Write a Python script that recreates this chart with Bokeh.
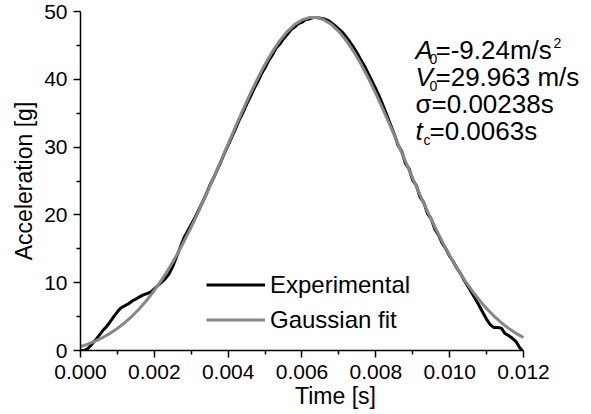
from bokeh.plotting import figure
from bokeh.models import (Range1d, FixedTicker, PrintfTickFormatter, Legend,
                          LegendItem, Label)
from bokeh.embed import file_html
from bokeh.resources import INLINE

# ---------------- data ----------------
time_exp = [
    0.0000, 0.0001, 0.0002, 0.0003, 0.0004, 0.0005, 0.0006, 0.0007, 0.0008, 0.0009,
    0.0010, 0.0011, 0.0012, 0.0013, 0.0014, 0.0015, 0.0016, 0.0017, 0.0018, 0.0019,
    0.0020, 0.0021, 0.0022, 0.0023, 0.0024, 0.0025, 0.0026, 0.0027, 0.0028, 0.0029,
    0.0030, 0.0031, 0.0032, 0.0033, 0.0034, 0.0035, 0.0036, 0.0037, 0.0038, 0.0039,
    0.0040, 0.0041, 0.0042, 0.0043, 0.0044, 0.0045, 0.0046, 0.0047, 0.0048, 0.0049,
    0.0050, 0.0051, 0.0052, 0.0053, 0.0054, 0.0055, 0.0056, 0.0057, 0.0058, 0.0059,
    0.0060, 0.0061, 0.0062, 0.0063, 0.0064, 0.0065, 0.0066, 0.0067, 0.0068, 0.0069,
    0.0070, 0.0071, 0.0072, 0.0073, 0.0074, 0.0075, 0.0076, 0.0077, 0.0078, 0.0079,
    0.0080, 0.0081, 0.0082, 0.0083, 0.0084, 0.0085, 0.0086, 0.0087, 0.0088, 0.0089,
    0.0090, 0.0091, 0.0092, 0.0093, 0.0094, 0.0095, 0.0096, 0.0097, 0.0098, 0.0099,
    0.0100, 0.0101, 0.0102, 0.0103, 0.0104, 0.0105, 0.0106, 0.0107, 0.0108, 0.0109,
    0.0110, 0.0111, 0.0112, 0.0113, 0.0114, 0.0115, 0.0116, 0.0117, 0.0118, 0.0119,
    0.01197,
]
acc_exp = [
    0.0, 0.0, 0.3, 0.9, 1.5, 2.2, 2.9, 3.5, 4.2, 5.0,
    5.7, 6.3, 6.6, 6.9, 7.3, 7.6, 7.9, 8.2, 8.4, 8.6,
    9.1, 9.6, 10.1, 10.6, 11.3, 12.4, 13.8, 15.2, 16.6, 17.6,
    18.6, 19.6, 20.7, 21.8, 23.0, 24.3, 25.4, 26.6, 27.8, 29.1,
    30.3, 31.5, 32.7, 34.0, 35.1, 36.3, 37.4, 38.6, 39.6, 40.8,
    41.7, 42.8, 43.6, 44.6, 45.2, 46.0, 46.6, 47.3, 47.7, 48.2,
    48.4, 48.8, 48.9, 49.1, 49.1, 49.0, 48.9, 48.7, 48.3, 47.9,
    47.4, 46.9, 46.2, 45.5, 44.7, 43.8, 42.8, 41.9, 40.8, 39.7,
    38.6, 37.4, 36.1, 34.7, 33.3, 31.9, 30.3, 29.4, 27.6, 26.8,
    25.1, 24.3, 22.6, 21.8, 20.2, 19.4, 17.9, 17.0, 15.8, 15.0,
    13.9, 13.1, 12.1, 11.3, 10.3, 9.4, 8.5, 7.6, 6.6, 5.6,
    4.6, 3.8, 3.4, 3.4, 3.3, 2.5, 2.2, 1.8, 1.3, 0.4,
    0.0,
]

time_fit = [
    0.0000, 0.0002, 0.0004, 0.0006, 0.0008, 0.0010, 0.0012, 0.0014, 0.0016, 0.0018,
    0.0020, 0.0022, 0.0024, 0.0026, 0.0028, 0.0030, 0.0032, 0.0034, 0.0036, 0.0038,
    0.0040, 0.0042, 0.0044, 0.0046, 0.0048, 0.0050, 0.0052, 0.0054, 0.0056, 0.0058,
    0.0060, 0.0062, 0.0064, 0.0066, 0.0068, 0.0070, 0.0072, 0.0074, 0.0076, 0.0078,
    0.0080, 0.0082, 0.0084, 0.0086, 0.0088, 0.0090, 0.0092, 0.0094, 0.0096, 0.0098,
    0.0100, 0.0102, 0.0104, 0.0106, 0.0108, 0.0110, 0.0112, 0.0114, 0.0116, 0.0118,
    0.0120,
]
acc_fit = [
    0.57, 0.94, 1.38, 1.91, 2.53, 3.26, 4.10, 5.08, 6.19, 7.45,
    8.86, 10.42, 12.14, 14.02, 16.05, 18.22, 20.51, 22.91, 25.39, 27.92,
    30.47, 33.01, 35.49, 37.88, 40.14, 42.22, 44.09, 45.70, 47.04, 48.07,
    48.76, 49.12, 49.12, 48.76, 48.07, 47.04, 45.70, 44.09, 42.22, 40.14,
    37.88, 35.49, 33.01, 30.47, 27.92, 25.39, 22.91, 20.51, 18.22, 16.05,
    14.02, 12.14, 10.42, 8.86, 7.45, 6.19, 5.08, 4.10, 3.26, 2.53,
    1.91,
]

x_major = [0.000, 0.002, 0.004, 0.006, 0.008, 0.010, 0.012]
x_minor = [0.001, 0.003, 0.005, 0.007, 0.009, 0.011]
y_major = [0, 10, 20, 30, 40, 50]
y_minor = [5, 15, 25, 35, 45]

series_names = ["Experimental", "Gaussian fit"]
x_title = "Time [s]"
y_title = "Acceleration [g]"

FONT = "Liberation Sans"

# The frame is widened to the right so the parameter text is not clipped;
# the axis itself is bounded to 0 .. 0.012 like the reference.
p = figure(width=591, height=414, output_backend="svg", toolbar_location=None,
           x_range=Range1d(0, 0.013815), y_range=Range1d(0, 50),
           min_border_left=80, min_border_right=1,
           min_border_top=11, min_border_bottom=64)
p.xgrid.visible = False
p.ygrid.visible = False
p.outline_line_color = None
p.background_fill_color = "white"
p.border_fill_color = "white"

for ax in (p.xaxis[0], p.yaxis[0]):
    ax.axis_line_color = "black"
    ax.axis_line_width = 1.5
    ax.major_tick_line_color = "black"
    ax.major_tick_line_width = 1.5
    ax.minor_tick_line_color = "black"
    ax.minor_tick_line_width = 1.5
    ax.major_tick_in = 0
    ax.major_tick_out = 7
    ax.minor_tick_in = 0
    ax.minor_tick_out = 4
    ax.major_label_text_font = FONT
    ax.major_label_text_font_size = "21px"
    ax.major_label_text_color = "black"
    ax.axis_label_text_font = FONT
    ax.axis_label_text_font_size = "23px"
    ax.axis_label_text_font_style = "normal"
    ax.axis_label_text_color = "black"

p.xaxis[0].bounds = (0, 0.012)
p.xaxis[0].ticker = FixedTicker(ticks=x_major, minor_ticks=x_minor)
p.yaxis[0].ticker = FixedTicker(ticks=y_major, minor_ticks=y_minor)
p.xaxis[0].formatter = PrintfTickFormatter(format="%.3f")
p.xaxis[0].major_label_standoff = 7
p.yaxis[0].major_label_standoff = 6
p.xaxis[0].axis_label = x_title
p.yaxis[0].axis_label = y_title
p.xaxis[0].axis_label_standoff = 1
p.yaxis[0].axis_label_standoff = 4

r_exp = p.line(time_exp, acc_exp, line_color="black", line_width=3,
               line_join="round")
r_fit = p.line(time_fit, acc_fit, line_color="#888888", line_width=3,
               line_join="round")

legend = Legend(items=[LegendItem(label=series_names[0], renderers=[r_exp]),
                       LegendItem(label=series_names[1], renderers=[r_fit])],
                location=(126, 13), orientation="vertical",
                label_text_font=FONT, label_text_font_size="24px",
                label_text_color="black",
                glyph_width=59, glyph_height=35, label_height=35,
                label_standoff=5, spacing=0, padding=0, margin=0,
                border_line_color=None, background_fill_alpha=0)
p.add_layout(legend)

def lab(text, x, y, size="26px", style="normal"):
    p.add_layout(Label(x=x, y=y, x_units="screen", y_units="screen", text=text,
                       text_font=FONT, text_font_size=size,
                       text_font_style=style, text_color="black",
                       text_baseline="alphabetic", text_align="left"))

# line 1: A0 = -9.24 m/s^2
lab("A", 335, 301, style="italic")
lab("0", 349, 292, size="14px")
lab("=-9.24m/s", 355, 301)
lab("2", 473, 308, size="14px")
# line 2: V0 = 29.963 m/s
lab("V", 335, 274, style="italic")
lab("0", 349, 265, size="14px")
lab("=29.963 m/s", 355, 274)
# line 3: sigma
lab("σ=0.00238s", 335, 247)
# line 4: tc
lab("t", 335, 220, style="italic")
lab("c", 343, 211, size="14px")
lab("=0.0063s", 349, 220)

open("out.html", "w").write(file_html(p, INLINE))
